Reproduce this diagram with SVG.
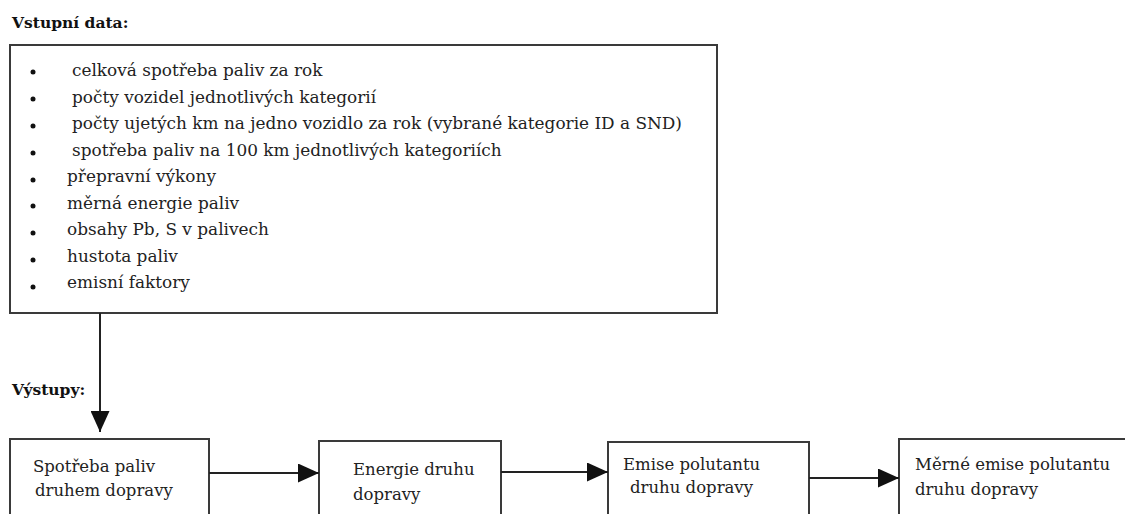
<svg xmlns="http://www.w3.org/2000/svg" width="1125" height="514" viewBox="0 0 1125 514">
<defs>
<style>
.box{fill:#fff;stroke:#3a3a3a;stroke-width:2}
.t{font-family:"DejaVu Serif","Liberation Serif",serif;font-size:16.5px;fill:#222}
.l{font-family:"DejaVu Serif","Liberation Serif",serif;font-size:16.9px;fill:#222}
.h{font-family:"DejaVu Serif","Liberation Serif",serif;font-size:15.5px;font-weight:bold;fill:#111}
.c{stroke:#222;stroke-width:2;fill:none}
</style>
<marker id="ahb" viewBox="0 0 10 10" refX="10" refY="5" markerWidth="21" markerHeight="19" markerUnits="userSpaceOnUse" orient="auto" preserveAspectRatio="none">
<path d="M0,0 L10,5 L0,10 Z" fill="#111"/>
</marker>
</defs>
<rect width="1125" height="514" fill="#fff"/>
<text class="h" x="12" y="28">Vstupní data:</text>
<text class="h" x="12" y="395">Výstupy:</text>
<g id="input">
<rect class="box" x="10" y="45" width="707" height="268"/>
<g class="l">
<circle cx="33" cy="72" r="2.5" fill="#111"/><text x="72" y="76">celková spotřeba paliv za rok</text>
<circle cx="33" cy="99" r="2.5" fill="#111"/><text x="72" y="102.5">počty vozidel jednotlivých kategorií</text>
<circle cx="33" cy="126" r="2.5" fill="#111"/><text x="72" y="129">počty ujetých km na jedno vozidlo za rok (vybrané kategorie ID a SND)</text>
<circle cx="33" cy="153" r="2.5" fill="#111"/><text x="72" y="155.5">spotřeba paliv na 100 km jednotlivých kategoriích</text>
<circle cx="33" cy="180" r="2.5" fill="#111"/><text x="67" y="182">přepravní výkony</text>
<circle cx="33" cy="206" r="2.5" fill="#111"/><text x="67" y="208.5">měrná energie paliv</text>
<circle cx="33" cy="233" r="2.5" fill="#111"/><text x="67" y="235">obsahy Pb, S v palivech</text>
<circle cx="33" cy="260" r="2.5" fill="#111"/><text x="67" y="261.5">hustota paliv</text>
<circle cx="33" cy="287" r="2.5" fill="#111"/><text x="67" y="288">emisní faktory</text>
</g>
</g>
<g id="out1">
<rect class="box" x="10" y="439" width="199" height="90"/>
<text class="t" x="33" y="472">Spotřeba paliv</text>
<text class="t" x="35" y="496">druhem dopravy</text>
</g>
<g id="out2">
<rect class="box" x="319" y="441" width="182" height="90"/>
<text class="t" x="353" y="475">Energie druhu</text>
<text class="t" x="353" y="500">dopravy</text>
</g>
<g id="out3">
<rect class="box" x="608" y="442" width="201" height="90"/>
<text class="t" x="623" y="470">Emise polutantu</text>
<text class="t" x="630" y="493">druhu dopravy</text>
</g>
<g id="out4">
<rect class="box" x="899" y="439" width="240" height="90"/>
<text class="t" x="915" y="470">Měrné emise polutantu</text>
<text class="t" x="915" y="495">druhu dopravy</text>
</g>
<g id="connectors">
<line class="c" x1="100" y1="313" x2="100" y2="432" marker-end="url(#ahb)"/>
<line class="c" x1="209" y1="473" x2="319" y2="473" marker-end="url(#ahb)"/>
<line class="c" x1="501" y1="472" x2="608" y2="472" marker-end="url(#ahb)"/>
<line class="c" x1="809" y1="478" x2="899" y2="478" marker-end="url(#ahb)"/>
</g>
</svg>
